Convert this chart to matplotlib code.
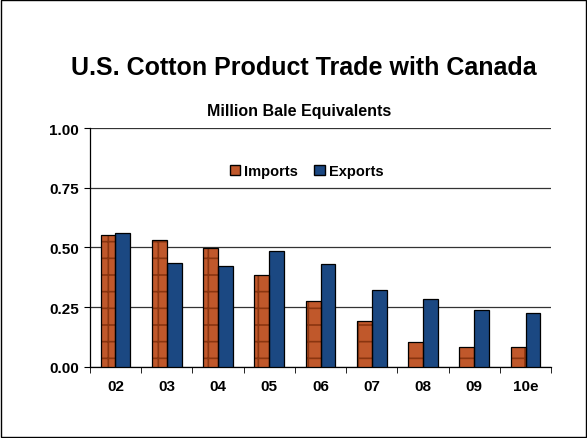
import numpy as np
import matplotlib.pyplot as plt
from matplotlib.patches import Rectangle, Patch

# --- Dati ---
years = ['02', '03', '04', '05', '06', '07', '08', '09', '10e']
imports = [0.552, 0.532, 0.497, 0.383, 0.275, 0.193, 0.105, 0.085, 0.082]
exports = [0.561, 0.436, 0.421, 0.487, 0.430, 0.320, 0.285, 0.240, 0.225]
yticks = [0.00, 0.25, 0.50, 0.75, 1.00]

imp_color = '#C0582B'
exp_color = '#1B4882'
hatch_color = '#8A3510'

plt.rcParams['font.family'] = ['Liberation Sans', 'DejaVu Sans']
plt.rcParams['hatch.linewidth'] = 1.2

fig = plt.figure(figsize=(5.87, 4.39), dpi=100)
fig.patches.append(Rectangle((0.002, 0.002), 0.996, 0.996, transform=fig.transFigure,
                             fill=False, edgecolor='black', linewidth=1.0))
ax = fig.add_axes([0.153, 0.162, 0.786, 0.544])

x = np.arange(len(years))
w = 0.29

# barre importazioni con griglia (mattoni)
ax.bar(x - w / 2, imports, width=w, color=imp_color, edgecolor=hatch_color,
       hatch='+', linewidth=0, zorder=3)
ax.bar(x - w / 2, imports, width=w, fill=False, edgecolor='black', linewidth=0.9, zorder=4)
ax.bar(x + w / 2, exports, width=w, color=exp_color, edgecolor='black', linewidth=0.9, zorder=3)

ax.set_xlim(-0.5, len(years) - 0.5)
ax.set_ylim(0, 1.0)
ax.set_yticks(yticks)
ax.set_yticklabels([f'{v:.2f}' for v in yticks], fontweight='bold', fontsize=11)
ax.set_xticks(x)
ax.set_xticklabels(years, fontweight='bold', fontsize=11)
ax.tick_params(axis='x', which='major', length=0, pad=9)
ax.set_xticks(np.arange(-0.5, len(years)), minor=True)
ax.tick_params(axis='x', which='minor', length=4, direction='out')
ax.tick_params(axis='y', length=4, direction='out', pad=4)

ax.grid(axis='y', color='#333333', linewidth=0.9, zorder=0)
for s in ['top', 'right']:
    ax.spines[s].set_visible(False)
ax.spines['left'].set_linewidth(0.9)
ax.spines['bottom'].set_linewidth(0.9)

# legenda
handles = [Patch(facecolor=imp_color, edgecolor='black', label='Imports'),
           Patch(facecolor=exp_color, edgecolor='black', label='Exports')]
ax.legend(handles=handles, loc='center', bbox_to_anchor=(0.47, 0.82), ncol=2,
          frameon=False, prop={'weight': 'bold', 'size': 10.5},
          handlelength=0.7, handleheight=0.7, handletextpad=0.3, columnspacing=1.1)

fig.text(0.517, 0.845, 'U.S. Cotton Product Trade with Canada', ha='center', va='center',
         fontsize=18, fontweight='bold')
fig.text(0.51, 0.745, 'Million Bale Equivalents', ha='center', va='center',
         fontsize=11.5, fontweight='bold')

plt.savefig('out.png', dpi=100)
